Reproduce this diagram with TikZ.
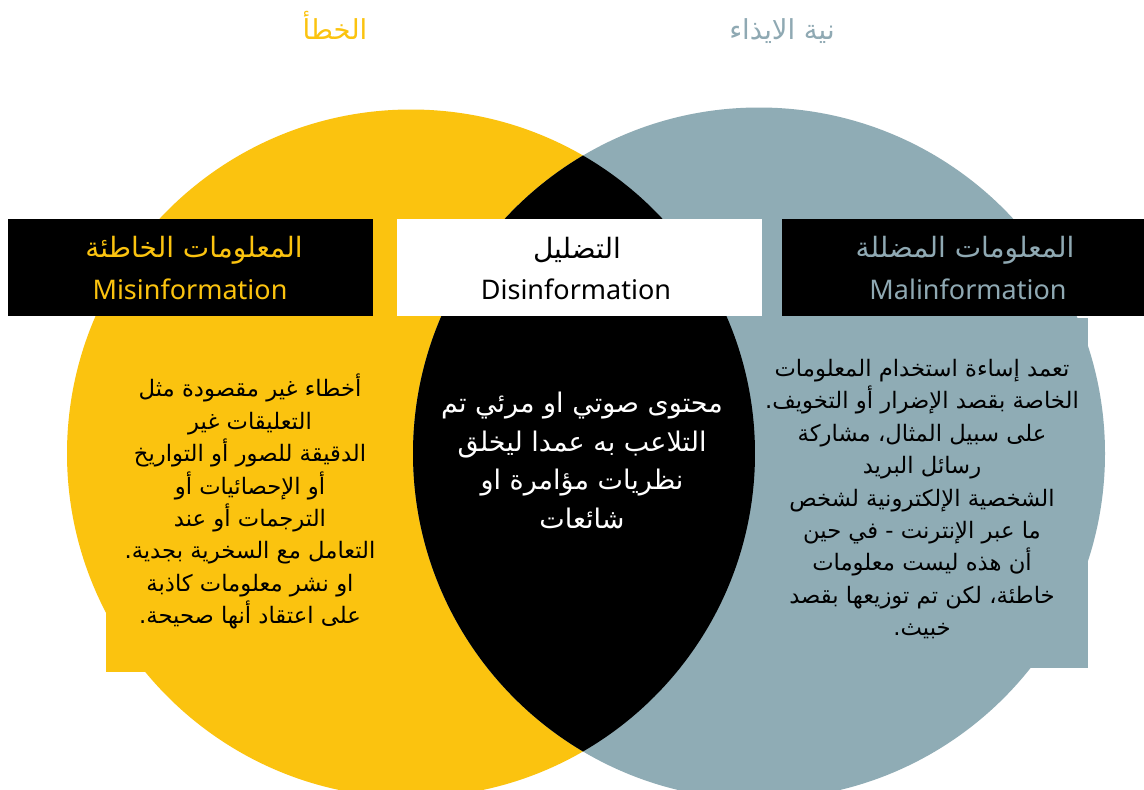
\documentclass[tikz,border=0pt]{standalone}
\usepackage{fontspec}
\setmainfont{Noto Sans}
\newfontfamily\arabicfont[Script=Arabic]{DejaVu Sans}
\TeXXeTstate=1
\newcommand\AR[1]{\beginR #1\endR}
\definecolor{yel}{HTML}{FBC30F}
\definecolor{blu}{HTML}{8FACB5}
\definecolor{blutx}{HTML}{8FA9B3}
\tikzset{
  hdrbox/.style={rectangle, inner sep=0pt, minimum height=97pt},
  arhdr/.style={font=\arabicfont\fontsize{28}{32}\selectfont, inner sep=0pt},
  enhdr/.style={font=\fontsize{27}{32}\selectfont, inner sep=0pt},
  body/.style={align=center, inner sep=0pt, font=\arabicfont\fontsize{22.7}{32.4}\selectfont},
  toplbl/.style={font=\arabicfont\fontsize{27.5}{32}\selectfont, inner sep=0pt}
}
\begin{document}
\begin{tikzpicture}[x=1pt,y=-1pt]
\useasboundingbox (0,0) rectangle (1144,790);
\fill[white] (0,0) rectangle (1144,790);
\begin{scope}
  \clip (0,0) rectangle (1144,790);
  \fill[yel] (411,453.5) circle (344);
  \fill[blu] (759,453.5) circle (346);
  \begin{scope}
    \clip (411,453.5) circle (344);
    \fill[black] (759,453.5) circle (346);
  \end{scope}
\end{scope}
% text panels
\fill[yel] (106,318) rectangle (395,672);
\fill[blu] (755,318) rectangle (1088,668);
% header boxes
\node[hdrbox, fill=black, minimum width=365pt] (misbox) at (190.5,267.5) {};
\node[hdrbox, fill=white, minimum width=365pt] (disbox) at (579.5,267.5) {};
\node[hdrbox, fill=black, minimum width=362pt] (malbox) at (963,267.5) {};
\node[arhdr, text=yel] (misar) at (194,250) {\AR{المعلومات الخاطئة}};
\node[enhdr, text=yel] (misen) at (190,289) {Misinformation};
\node[arhdr, text=black] (disar) at (577,250) {\AR{التضليل}};
\node[enhdr, text=black] (disen) at (576,289) {Disinformation};
\node[arhdr, text=blutx] (malar) at (965,250) {\AR{المعلومات المضللة}};
\node[enhdr, text=blutx] (malen) at (968,289) {Malinformation};
% top labels
\node[toplbl, text=yel] (errlbl) at (335,25) {\AR{الخطأ}};
\node[toplbl, text=blutx] (harmlbl) at (782,31) {\AR{نية الايذاء}};
% body texts
\node[body, text=black, anchor=north] (mistext) at (250,374) {%
\AR{أخطاء غير مقصودة مثل}\\
\AR{التعليقات غير}\\
\AR{الدقيقة للصور أو التواريخ}\\
\AR{أو الإحصائيات أو}\\
\AR{الترجمات أو عند}\\
\AR{التعامل مع السخرية بجدية.}\\
\AR{او نشر معلومات كاذبة}\\
\AR{على اعتقاد أنها صحيحة.}};
\node[body, text=black, text=white, anchor=north, font=\arabicfont\fontsize{27}{38.5}\selectfont] (distext) at (582,392) {%
\AR{محتوى صوتي او مرئي تم}\\
\AR{التلاعب به عمدا  ليخلق}\\
\AR{نظريات مؤامرة او}\\
\AR{شائعات}};
\node[body, text=black, anchor=north] (maltext) at (922,359) {%
\AR{تعمد إساءة استخدام المعلومات}\\
\AR{الخاصة بقصد الإضرار أو التخويف.}\\
\AR{على سبيل المثال، مشاركة}\\
\AR{رسائل البريد}\\
\AR{الشخصية الإلكترونية لشخص}\\
\AR{ما عبر الإنترنت - في حين}\\
\AR{أن هذه ليست معلومات}\\
\AR{خاطئة، لكن تم توزيعها بقصد}\\
\AR{خبيث.}};
\end{tikzpicture}
\end{document}
